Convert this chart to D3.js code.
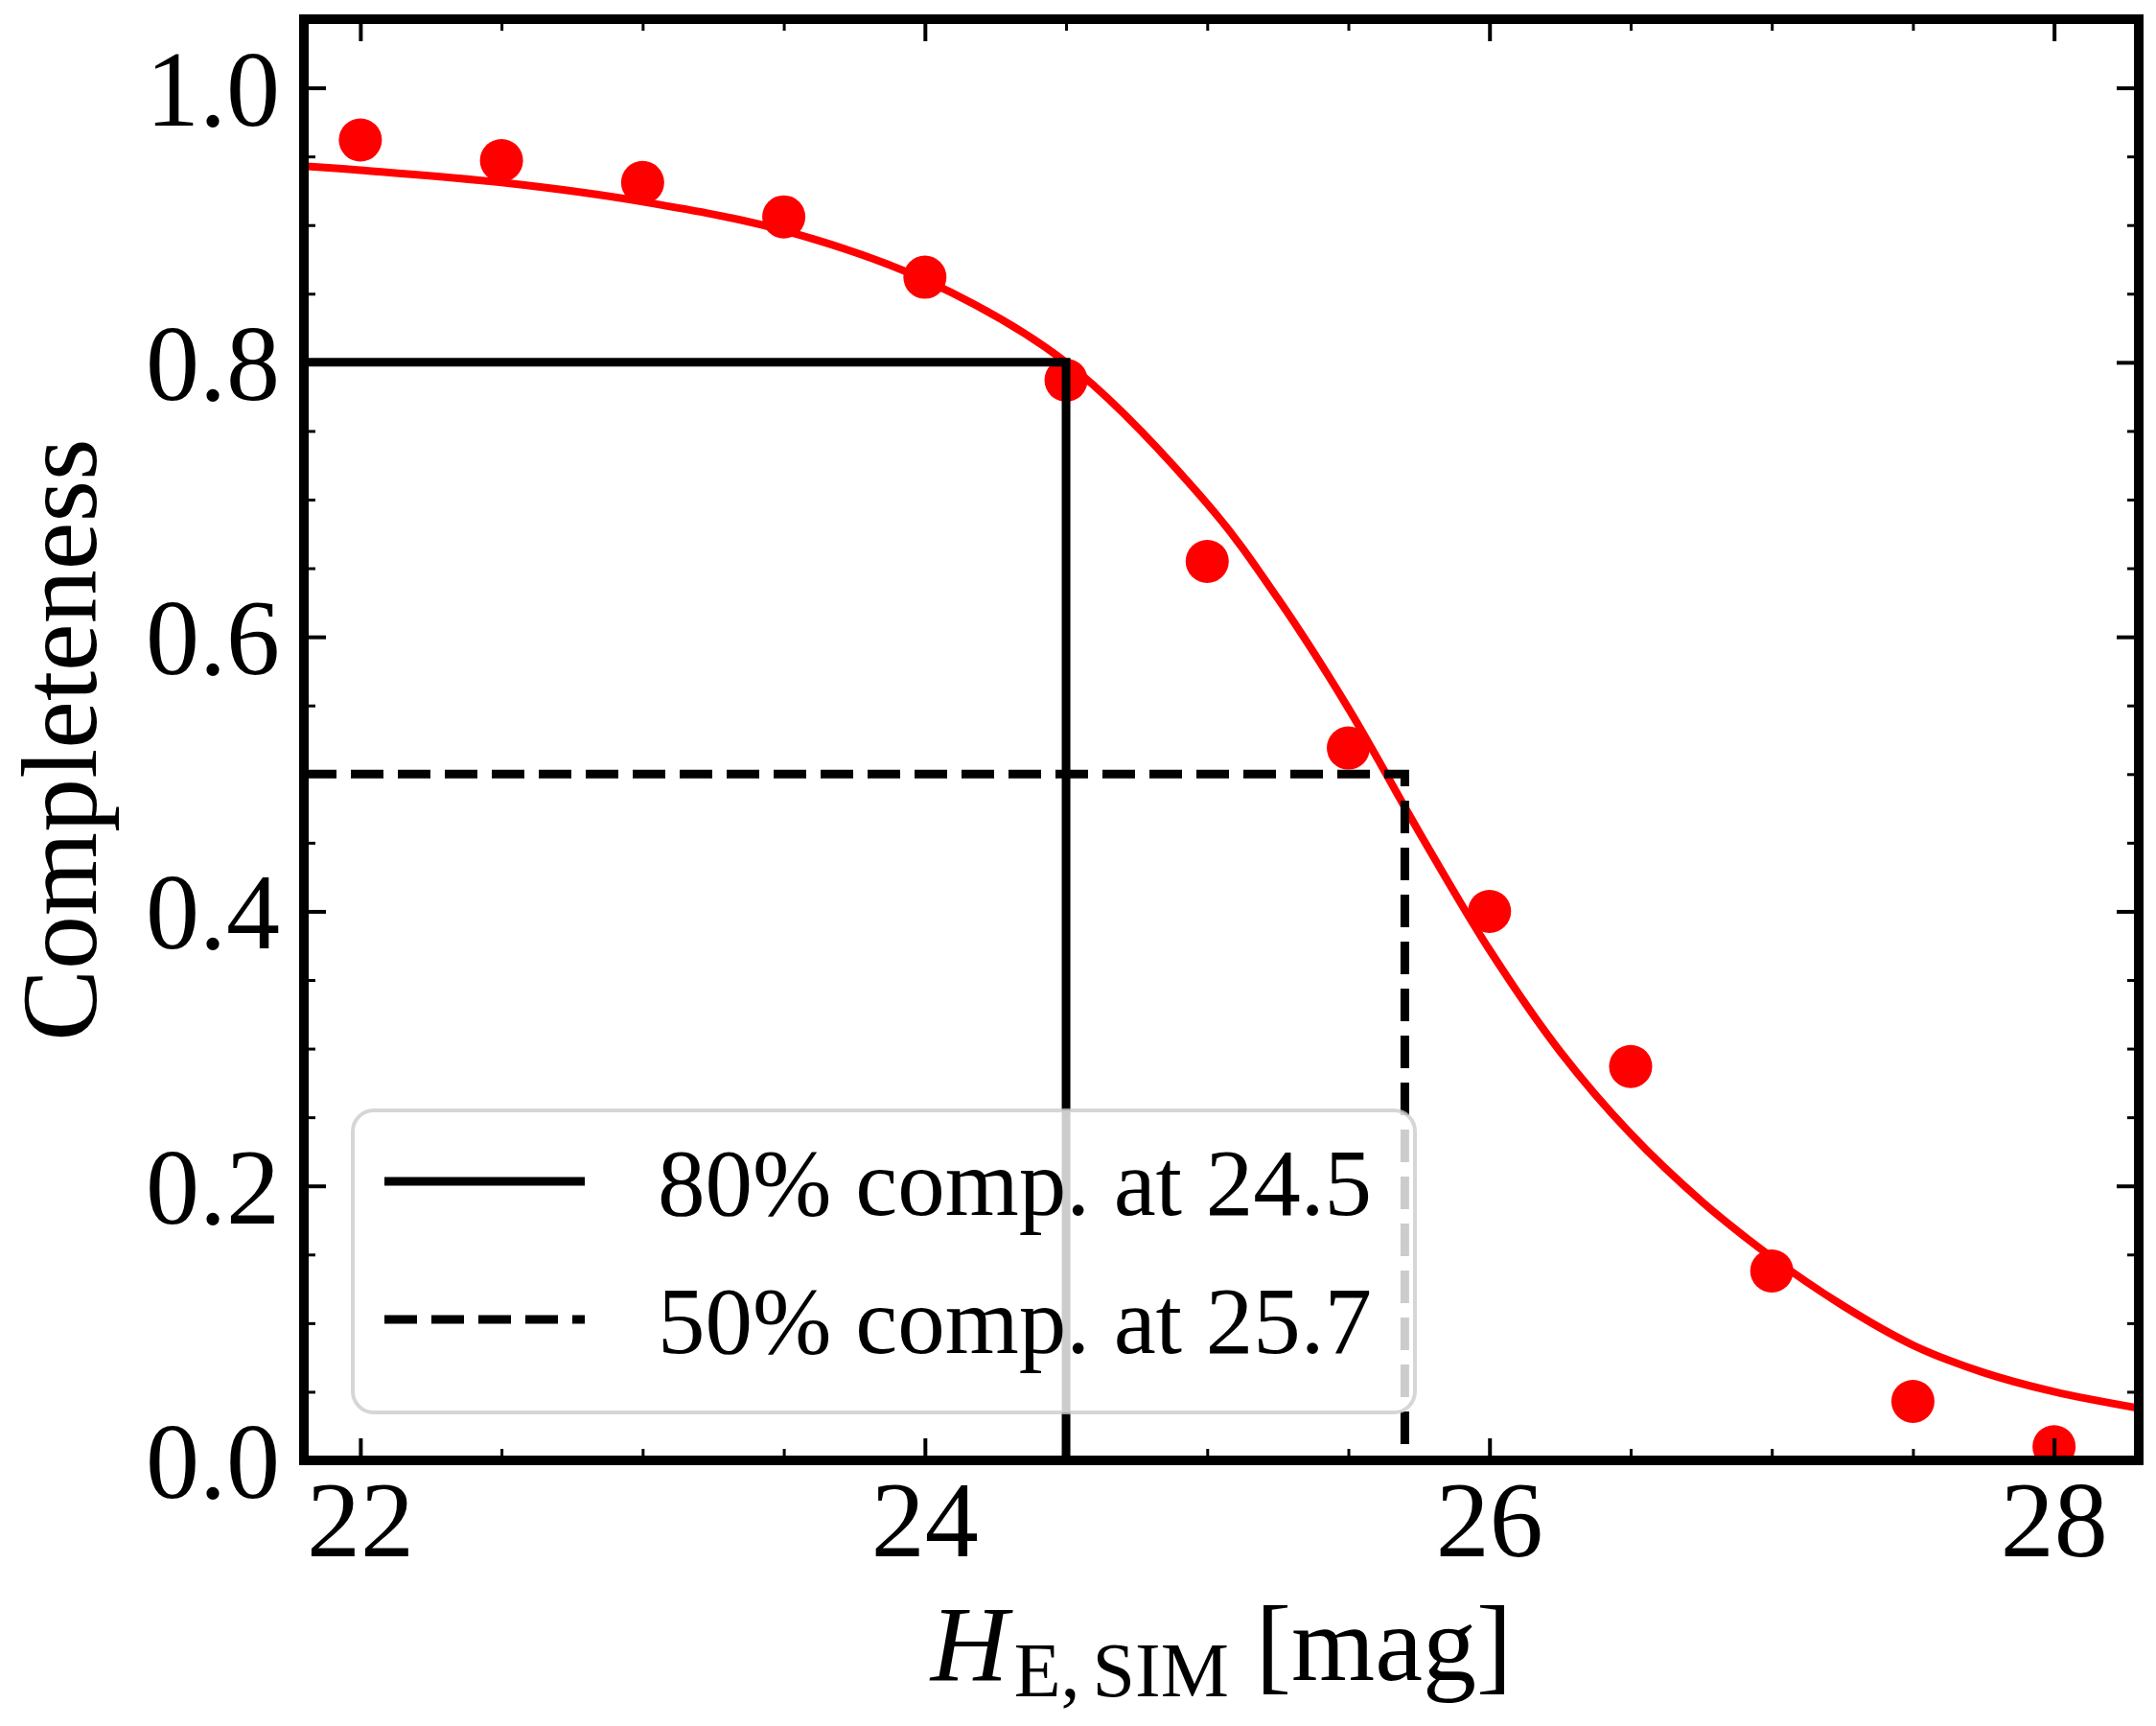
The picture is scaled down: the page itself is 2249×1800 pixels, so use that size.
<!DOCTYPE html>
<html lang="en">
<head>
<meta charset="UTF-8" />
<title>Completeness</title>
<style>
  html, body {
    margin: 0;
    padding: 0;
    background: #ffffff;
  }
  svg {
    display: block;
    font-family: "Liberation Serif", "DejaVu Serif", serif;
  }
</style>
</head>
<body>
<svg id="chart" width="2249" height="1800"></svg>

<script src="https://d3js.org/d3.v7.min.js"></script>
<script>
// measured completeness per magnitude bin
const binMag = [22, 22.5, 23, 23.5, 24, 24.5, 25, 25.5, 26, 26.5, 27, 27.5, 28];
const binComp = [0.962, 0.947, 0.931, 0.906, 0.862, 0.787, 0.655, 0.519, 0.400, 0.287, 0.138, 0.043, 0.010];

// fitted curve
const fitMag = [21.8, 22.0, 22.5, 23.0, 23.5, 24.0, 24.5, 25.0, 25.25, 25.5, 25.75, 26.0, 26.25, 26.5, 26.75, 27.0, 27.25, 27.5, 27.75, 28.0, 28.3];
const fitComp = [0.943, 0.940, 0.931, 0.917, 0.896, 0.860, 0.800, 0.697, 0.628, 0.548, 0.458, 0.372, 0.298, 0.238, 0.189, 0.148, 0.113, 0.084, 0.064, 0.050, 0.038];

// completeness levels
const levelFrac = [0.8, 0.5];
const levelMag = [24.5, 25.7];
const levelLabel = ["80% comp. at 24.5", "50% comp. at 25.7"];

const xMajor = [22, 24, 26, 28];
const xMinor = [22.5, 23, 23.5, 24.5, 25, 25.5, 26.5, 27, 27.5];
const yMajor = [0, 0.2, 0.4, 0.6, 0.8, 1.0];
const yMinor = [0.05, 0.1, 0.15, 0.25, 0.3, 0.35, 0.45, 0.5, 0.55, 0.65, 0.7, 0.75, 0.85, 0.9, 0.95];

const pLeft = 317, pRight = 2231, pTop = 20, pBottom = 1523;
const tickFont = 112;
const dashes = "34,15";

const svg = d3.select("#chart");

const x = d3.scaleLinear().domain([21.8, 28.3]).range([pLeft, pRight]);
const y = d3.scaleLinear().domain([0, 1.05]).range([pBottom, pTop]);

svg.append("defs").append("clipPath").attr("id", "plotclip")
  .append("rect")
  .attr("x", pLeft).attr("y", pTop)
  .attr("width", pRight - pLeft).attr("height", pBottom - pTop);

const plot = svg.append("g").attr("clip-path", "url(#plotclip)");

// data points
plot.selectAll(".dot")
  .data(binMag)
  .join("circle")
  .attr("class", "dot")
  .attr("cx", d => x(d))
  .attr("cy", (d, i) => y(binComp[i]))
  .attr("r", 22.5)
  .attr("fill", "#ff0000");

// fit
const line = d3.line()
  .x(d => x(d[0]))
  .y(d => y(d[1]))
  .curve(d3.curveCatmullRom.alpha(0.5));

plot.append("path")
  .datum(fitMag.map((m, i) => [m, fitComp[i]]))
  .attr("d", line)
  .attr("fill", "none")
  .attr("stroke", "#ff0000")
  .attr("stroke-width", 8);

// level guides: across from the left edge, then down to the axis
const guide = d3.line().x(d => x(d[0])).y(d => y(d[1]));
levelFrac.forEach((f, i) => {
  plot.append("path")
    .attr("d", guide([[21.8, f], [levelMag[i], f], [levelMag[i], 0]]))
    .attr("fill", "none")
    .attr("stroke", "#000")
    .attr("stroke-width", 9)
    .attr("stroke-dasharray", i === 1 ? dashes : null);
});

// ticks, pointing in, on all four sides
function ticks(axisFn, scale, values, size, width, pos) {
  const g = svg.append("g")
    .attr("transform", pos)
    .call(axisFn(scale).tickValues(values).tickSize(size).tickFormat(""));
  g.select(".domain").remove();
  g.selectAll(".tick line").attr("stroke", "#000").attr("stroke-width", width);
  return g;
}
[[d3.axisBottom, `translate(0,${pBottom})`], [d3.axisTop, `translate(0,${pTop})`]].forEach(([fn, pos]) => {
  ticks(fn, x, xMajor, -23, 4, pos);
  ticks(fn, x, xMinor, -12, 3, pos);
});
[[d3.axisLeft, `translate(${pLeft},0)`], [d3.axisRight, `translate(${pRight},0)`]].forEach(([fn, pos]) => {
  ticks(fn, y, yMajor, -23, 4, pos);
  ticks(fn, y, yMinor, -12, 3, pos);
});

// frame
svg.append("rect")
  .attr("x", pLeft).attr("y", pTop)
  .attr("width", pRight - pLeft).attr("height", pBottom - pTop)
  .attr("fill", "none")
  .attr("stroke", "#000")
  .attr("stroke-width", 10);

// tick labels
svg.append("g").selectAll("text")
  .data(xMajor)
  .join("text")
  .attr("x", d => x(d))
  .attr("y", 1623)
  .attr("text-anchor", "middle")
  .attr("font-size", tickFont)
  .text(d => d);

svg.append("g").selectAll("text")
  .data(yMajor)
  .join("text")
  .attr("x", 292)
  .attr("y", d => y(d) + 39)
  .attr("text-anchor", "end")
  .attr("font-size", tickFont)
  .text(d => d.toFixed(1));

// axis labels
svg.append("text")
  .attr("transform", `translate(100,${(pTop + pBottom) / 2}) rotate(-90)`)
  .attr("text-anchor", "middle")
  .attr("font-size", tickFont)
  .text("Completeness");

const xl = svg.append("text")
  .attr("x", (pLeft + pRight) / 2)
  .attr("y", 1752)
  .attr("text-anchor", "middle")
  .attr("font-size", tickFont);
xl.append("tspan").attr("font-style", "italic").text("H");
xl.append("tspan").attr("font-size", 80).attr("dy", 17).attr("dx", 6).text("E,");
xl.append("tspan").attr("font-size", 80).attr("dx", 13).text("SIM");
xl.append("tspan").attr("dy", -17).text(" [mag]");

// legend
const legend = svg.append("g");
legend.append("rect")
  .attr("x", 368).attr("y", 1158)
  .attr("width", 1108).attr("height", 315)
  .attr("rx", 22).attr("ry", 22)
  .attr("fill", "#ffffff").attr("fill-opacity", 0.8)
  .attr("stroke", "#cccccc").attr("stroke-opacity", 0.8)
  .attr("stroke-width", 4);

levelLabel.forEach((label, i) => {
  const cy = 1232 + i * 144;
  legend.append("line")
    .attr("x1", 401).attr("x2", 610)
    .attr("y1", cy).attr("y2", cy)
    .attr("stroke", "#000")
    .attr("stroke-width", 9)
    .attr("stroke-dasharray", i === 1 ? dashes : null);
  legend.append("text")
    .attr("x", 686)
    .attr("y", cy + 35)
    .attr("font-size", 99)
    .text(label);
});
</script>
</body>
</html>
